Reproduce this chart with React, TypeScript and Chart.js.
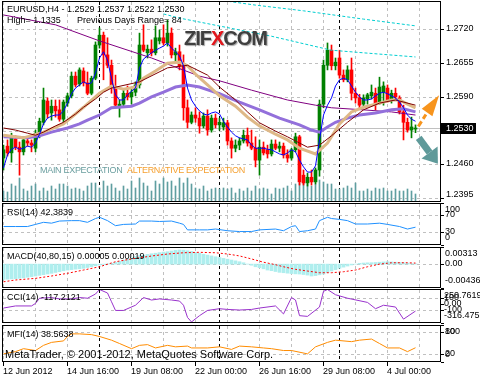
import React, { useEffect, useRef } from 'react';
import { Chart, registerables } from 'chart.js';

Chart.register(...registerables);

const FONT = '"Liberation Sans", Arial, Helvetica, sans-serif';

// ---------------- DATA ----------------
const symbol = 'EURUSD,H4';
const highLabel = '1.1335';
const prevDaysRange = 84;

const opens = [
  1.2473, 1.2496, 1.2483, 1.2510, 1.2494, 1.2485, 1.2506, 1.2502, 1.2492, 1.2519,
  1.2542, 1.2583, 1.2560, 1.2573, 1.2566, 1.2548, 1.2579, 1.2593, 1.2631, 1.2616,
  1.2641, 1.2618, 1.2598, 1.2627, 1.2691, 1.2710, 1.2672, 1.2652, 1.2610, 1.2570,
  1.2577, 1.2598, 1.2591, 1.2600, 1.2614, 1.2691, 1.2676, 1.2683, 1.2676, 1.2699,
  1.2705, 1.2695, 1.2714, 1.2672, 1.2678, 1.2651, 1.2570, 1.2542, 1.2556, 1.2550,
  1.2535, 1.2554, 1.2527, 1.2550, 1.2537, 1.2533, 1.2541, 1.2506, 1.2492, 1.2498,
  1.2506, 1.2517, 1.2502, 1.2492, 1.2469, 1.2494, 1.2489, 1.2481, 1.2500, 1.2492,
  1.2496, 1.2479, 1.2473, 1.2489, 1.2514, 1.2440, 1.2425, 1.2436, 1.2427, 1.2450,
  1.2577, 1.2652, 1.2681, 1.2651, 1.2666, 1.2633, 1.2624, 1.2643, 1.2598, 1.2589,
  1.2577, 1.2587, 1.2593, 1.2598, 1.2581, 1.2600, 1.2608, 1.2585, 1.2598, 1.2589,
  1.2562, 1.2542, 1.2527, 1.2529,
];
const highs = [
  1.2498, 1.2508, 1.2521, 1.2516, 1.2504, 1.2512, 1.2514, 1.2508, 1.2527, 1.2550,
  1.2608, 1.2589, 1.2585, 1.2585, 1.2585, 1.2585, 1.2598, 1.2639, 1.2639, 1.2647,
  1.2647, 1.2639, 1.2631, 1.2697, 1.2724, 1.2716, 1.2705, 1.2662, 1.2633, 1.2585,
  1.2604, 1.2612, 1.2608, 1.2620, 1.2714, 1.2730, 1.2691, 1.2701, 1.2728, 1.2720,
  1.2730, 1.2739, 1.2724, 1.2685, 1.2691, 1.2672, 1.2585, 1.2562, 1.2570, 1.2562,
  1.2560, 1.2566, 1.2556, 1.2558, 1.2550, 1.2550, 1.2546, 1.2512, 1.2508, 1.2512,
  1.2527, 1.2531, 1.2527, 1.2514, 1.2508, 1.2504, 1.2498, 1.2508, 1.2508, 1.2504,
  1.2502, 1.2489, 1.2492, 1.2521, 1.2517, 1.2450, 1.2444, 1.2450, 1.2454, 1.2585,
  1.2662, 1.2695, 1.2691, 1.2666, 1.2681, 1.2643, 1.2651, 1.2666, 1.2608, 1.2596,
  1.2595, 1.2598, 1.2614, 1.2608, 1.2629, 1.2620, 1.2614, 1.2604, 1.2608, 1.2593,
  1.2575, 1.2550, 1.2552, 1.2537,
];
const lows = [
  1.2450, 1.2477, 1.2465, 1.2489, 1.2440, 1.2479, 1.2496, 1.2485, 1.2485, 1.2512,
  1.2537, 1.2550, 1.2546, 1.2552, 1.2544, 1.2542, 1.2573, 1.2589, 1.2610, 1.2612,
  1.2612, 1.2595, 1.2595, 1.2624, 1.2685, 1.2624, 1.2647, 1.2598, 1.2570, 1.2552,
  1.2571, 1.2585, 1.2577, 1.2593, 1.2608, 1.2678, 1.2666, 1.2670, 1.2672, 1.2693,
  1.2691, 1.2689, 1.2666, 1.2658, 1.2643, 1.2546, 1.2531, 1.2539, 1.2542, 1.2521,
  1.2531, 1.2517, 1.2523, 1.2531, 1.2527, 1.2527, 1.2498, 1.2473, 1.2485, 1.2489,
  1.2502, 1.2496, 1.2489, 1.2456, 1.2440, 1.2479, 1.2473, 1.2477, 1.2489, 1.2485,
  1.2473, 1.2465, 1.2469, 1.2485, 1.2421, 1.2421, 1.2419, 1.2421, 1.2423, 1.2438,
  1.2570, 1.2643, 1.2643, 1.2643, 1.2627, 1.2620, 1.2620, 1.2585, 1.2579, 1.2570,
  1.2573, 1.2577, 1.2587, 1.2566, 1.2577, 1.2575, 1.2581, 1.2579, 1.2585, 1.2558,
  1.2508, 1.2523, 1.2512, 1.2522,
];
const closes = [
  1.2489, 1.2483, 1.2512, 1.2494, 1.2485, 1.2508, 1.2502, 1.2498, 1.2521, 1.2544,
  1.2585, 1.2558, 1.2573, 1.2564, 1.2548, 1.2581, 1.2593, 1.2631, 1.2614, 1.2643,
  1.2618, 1.2598, 1.2627, 1.2691, 1.2710, 1.2672, 1.2652, 1.2610, 1.2575, 1.2577,
  1.2598, 1.2591, 1.2600, 1.2614, 1.2691, 1.2681, 1.2683, 1.2676, 1.2705, 1.2705,
  1.2695, 1.2714, 1.2672, 1.2678, 1.2651, 1.2570, 1.2542, 1.2556, 1.2550, 1.2535,
  1.2554, 1.2527, 1.2550, 1.2537, 1.2542, 1.2541, 1.2506, 1.2492, 1.2498, 1.2506,
  1.2517, 1.2502, 1.2492, 1.2469, 1.2494, 1.2483, 1.2481, 1.2500, 1.2492, 1.2496,
  1.2479, 1.2473, 1.2489, 1.2514, 1.2427, 1.2425, 1.2436, 1.2427, 1.2450, 1.2577,
  1.2652, 1.2681, 1.2651, 1.2658, 1.2633, 1.2624, 1.2643, 1.2598, 1.2589, 1.2575,
  1.2589, 1.2595, 1.2600, 1.2577, 1.2610, 1.2612, 1.2585, 1.2598, 1.2591, 1.2562,
  1.2542, 1.2527, 1.2533, 1.2530,
];
const volumes = [
  1100, 1000, 1800, 1600, 2400, 1300, 1100, 1600, 1800, 1100,
  1400, 1100, 1600, 1300, 1800, 1800, 1600, 1300, 1400, 1300,
  1100, 1600, 1900, 1900, 1400, 2100, 1600, 1800, 1400, 1100,
  1600, 1300, 2100, 1400, 2400, 1900, 1600, 1100, 2100, 1800,
  2400, 2000, 2100, 1600, 2400, 1900, 2400, 1800, 1400, 1300,
  1600, 1100, 1300, 1400, 1300, 1400, 1300, 1400, 900, 1300,
  1100, 1400, 1100, 1600, 1300, 1400, 1300, 800, 1400, 1300,
  1400, 1600, 1100, 1800, 1900, 1900, 1800, 1600, 1800, 2200,
  2000, 1800, 1800, 1300, 1300, 1400, 1600, 1400, 1900, 1100,
  1100, 1300, 1100, 1400, 1300, 1400, 1100, 1100, 1300, 1100,
  1100, 1300, 1100, 800,
];
const maBlue = [
  1.2454, 1.2479, 1.2490, 1.2494, 1.2490, 1.2492, 1.2496, 1.2494, 1.2502, 1.2519,
  1.2539, 1.2550, 1.2554, 1.2556, 1.2556, 1.2564, 1.2579, 1.2597, 1.2608, 1.2614,
  1.2620, 1.2616, 1.2618, 1.2637, 1.2666, 1.2678, 1.2662, 1.2627, 1.2595, 1.2585,
  1.2585, 1.2595, 1.2602, 1.2608, 1.2647, 1.2664, 1.2670, 1.2676, 1.2681, 1.2685,
  1.2689, 1.2695, 1.2685, 1.2678, 1.2670, 1.2651, 1.2608, 1.2585, 1.2573, 1.2564,
  1.2558, 1.2556, 1.2560, 1.2562, 1.2558, 1.2544, 1.2533, 1.2523, 1.2516, 1.2512,
  1.2510, 1.2508, 1.2498, 1.2492, 1.2492, 1.2492, 1.2490, 1.2489, 1.2485, 1.2481,
  1.2479, 1.2483, 1.2489, 1.2485, 1.2469, 1.2456, 1.2446, 1.2446, 1.2458, 1.2508,
  1.2556, 1.2575, 1.2589, 1.2612, 1.2624, 1.2627, 1.2624, 1.2612, 1.2600, 1.2591,
  1.2585, 1.2585, 1.2587, 1.2593, 1.2598, 1.2600, 1.2597, 1.2593, 1.2589, 1.2581,
  1.2570, 1.2556, 1.2548, 1.2544,
];
type Pair = [number, number];
const maTan: Pair[] = [
  [0, 1.2517], [5, 1.2512], [10, 1.2523], [15, 1.2539], [20, 1.2571], [24, 1.2598], [27, 1.2612],
  [30, 1.2606], [33, 1.2610], [35, 1.2627], [38, 1.2641], [41, 1.2656], [44, 1.2658], [46, 1.2651],
  [48, 1.2635], [51, 1.2614], [54, 1.2593], [58, 1.2573], [61, 1.2552], [64, 1.2535], [68, 1.2519],
  [71, 1.2508], [74, 1.2492], [78, 1.2481], [81, 1.2502], [84, 1.2539], [87, 1.2562], [90, 1.2571],
  [94, 1.2579], [97, 1.2585], [99, 1.2585], [101, 1.2577], [103, 1.2570],
];
const maMaroon: Pair[] = [
  [0, 1.2531], [3, 1.2527], [6, 1.2521], [8, 1.2517], [10, 1.2523], [13, 1.2535], [15, 1.2542],
  [18, 1.2558], [20, 1.2571], [23, 1.2587], [25, 1.2600], [27, 1.2608], [34, 1.2620], [41, 1.2647],
  [46, 1.2652], [51, 1.2633], [54, 1.2610], [58, 1.2585], [61, 1.2562], [64, 1.2541], [68, 1.2525],
  [71, 1.2514], [74, 1.2502], [76, 1.2494], [79, 1.2498], [82, 1.2516], [86, 1.2542], [90, 1.2566],
  [94, 1.2579], [98, 1.2585], [103, 1.2575],
];
const maPurple: Pair[] = [
  [0, 1.2514], [6, 1.2512], [9, 1.2516], [12, 1.2523], [16, 1.2531], [19, 1.2539], [21, 1.2546],
  [24, 1.2556], [27, 1.2570], [32, 1.2573], [34, 1.2579], [37, 1.2591], [40, 1.2600], [43, 1.2610],
  [46, 1.2614], [49, 1.2610], [52, 1.2602], [54, 1.2597], [59, 1.2581], [64, 1.2566], [69, 1.2550],
  [74, 1.2537], [77, 1.2527], [79, 1.2523], [81, 1.2533], [83, 1.2542], [86, 1.2550], [89, 1.2556],
  [93, 1.2560], [97, 1.2566], [100, 1.2568], [103, 1.2562],
];
const maLong: Pair[] = [
  [0, 1.2749], [13, 1.2730], [24, 1.2699], [37, 1.2666], [49, 1.2631], [54, 1.2622], [62, 1.2604],
  [71, 1.2585], [78, 1.2575], [82, 1.2570], [90, 1.2566], [97, 1.2562], [103, 1.2556],
];
const channelUpper: Pair[] = [[50, 1.2782], [63, 1.2768], [75, 1.2757], [90, 1.2741], [103, 1.2728]];
const channelLower: Pair[] = [
  [40, 1.2751], [44, 1.2743], [59, 1.2720], [67, 1.2708], [82, 1.2681], [90, 1.2676], [103, 1.2668],
];
const rsi: Pair[] = [
  [0, 44], [3, 44], [6, 44], [8, 49], [10, 54], [12, 52], [14, 57], [17, 58], [19, 58], [21, 54],
  [23, 63], [24, 66], [26, 58], [28, 46], [30, 49], [33, 50], [34, 57], [37, 57], [39, 56], [42, 57],
  [44, 52], [45, 49], [46, 36], [49, 36], [51, 36], [53, 38], [56, 34], [59, 32], [62, 32], [64, 36],
  [68, 38], [70, 34], [72, 44], [73, 46], [74, 32], [76, 34], [78, 38], [79, 58], [81, 66], [82, 63],
  [84, 61], [86, 58], [88, 50], [91, 50], [94, 52], [96, 49], [99, 44], [101, 38], [103, 42.3839],
];
const macdHist = [
  -0.00278, -0.00275, -0.00270, -0.00265, -0.00259, -0.00250, -0.00240, -0.00228,
  -0.00217, -0.00205, -0.00192, -0.00180, -0.00168, -0.00152, -0.00138, -0.00122,
  -0.00108, -0.00100, -0.00092, -0.00085, -0.00077, -0.00062, -0.00046, -0.00030,
  -0.00016, -0.00005, 0.00005, 0.00015, 0.00030, 0.00050, 0.00072, 0.00095,
  0.00115, 0.00135, 0.00155, 0.00165, 0.00178, 0.00190, 0.00200, 0.00210,
  0.00220, 0.00227, 0.00240, 0.00252, 0.00258, 0.00255, 0.00245, 0.00232,
  0.00212, 0.00197, 0.00180, 0.00165, 0.00150, 0.00135, 0.00120, 0.00105,
  0.00090, 0.00075, 0.00060, 0.00044, 0.00025, 0.00002, -0.00020, -0.00048,
  -0.00065, -0.00085, -0.00108, -0.00120, -0.00135, -0.00150, -0.00157, -0.00165,
  -0.00172, -0.00178, -0.00181, -0.00190, -0.00200, -0.00217, -0.00210, -0.00195,
  -0.00181, -0.00155, -0.00125, -0.00100, -0.00075, -0.00055, -0.00035, -0.00015,
  0.00000, 0.00015, 0.00020, 0.00024, 0.00026, 0.00030, 0.00035, 0.00040,
  0.00044, 0.00040, 0.00035, 0.00030, 0.00024, 0.00018, 0.00010, 0.00005,
];
const macdSignal: Pair[] = [
  [0, -0.00322], [3, -0.00290], [8, -0.00260], [12, -0.00217], [16, -0.00168], [20, -0.00108],
  [24, -0.00048], [28, 0.00044], [33, 0.00106], [37, 0.00148], [41, 0.00185], [45, 0.00208],
  [49, 0.00216], [53, 0.00208], [56, 0.00185], [59, 0.00150], [62, 0.00095], [65, 0.00035],
  [68, -0.00010], [70, -0.00048], [73, -0.00095], [76, -0.00126], [79, -0.00157], [82, -0.00157],
  [85, -0.00139], [88, -0.00108], [91, -0.00048], [94, 0.00000], [97, 0.00025], [101, 0.00025],
  [103, 0.00019],
];
const cci: Pair[] = [
  [0, -67], [3, -32], [7, -32], [8, 10], [9, 97], [12, 108], [14, 85], [17, 85], [19, 108], [21, 97],
  [23, 167], [24, 242], [26, 184], [27, 38], [28, -107], [30, -107], [33, -20], [35, 108], [37, 67],
  [39, 85], [42, 67], [44, 50], [45, -20], [46, -224], [47, -299], [49, -194], [51, -107], [54, -78],
  [56, -90], [59, -100], [62, -90], [64, -67], [68, -32], [70, -165], [72, 108], [73, 67], [74, -194],
  [76, -206], [79, -50], [80, 212], [81, 242], [83, 155], [86, 97], [91, 27], [93, -78], [95, -20],
  [98, -50], [100, -252], [103, -117.2121],
];
const mfi: Pair[] = [
  [0, 22], [3, 28], [5, 36], [8, 31], [10, 45], [12, 53], [15, 57], [16, 69], [17, 76], [19, 76],
  [22, 74], [24, 69], [27, 59], [29, 50], [32, 36], [34, 45], [36, 47], [38, 38], [41, 45], [43, 41],
  [46, 43], [47, 38], [51, 38], [54, 41], [57, 34], [59, 43], [62, 41], [65, 38], [67, 36], [70, 31],
  [72, 31], [76, 22], [78, 41], [81, 53], [83, 59], [87, 55], [89, 59], [92, 62], [94, 50], [96, 38],
  [99, 38], [101, 28], [103, 38.5638],
];
const priceTicks = [1.2395, 1.2460, 1.2525, 1.2590, 1.2655, 1.2720];
const lastPrice = 1.2530;
const xTickLabels = ['12 Jun 2012', '14 Jun 16:00', '19 Jun 08:00', '22 Jun 00:00', '26 Jun 16:00', '29 Jun 08:00', '4 Jul 00:00'];
const barsPerLabel = 16;
const weekStarts = [24, 54, 84];
const macdMax = 0.00313;
const macdMin = -0.00436;
const cciMax = 250.7619;
const cciMin = -316.475;

// ---------------- LAYOUT / STYLE ----------------
const X_MIN = -0.375;
const X_MAX = 109.375;
const GRID = '#c0c0c0';
const UP = '#008000';
const DOWN = '#ff0000';

const pts = (arr: Pair[]) => arr.map(([x, y]) => ({ x, y }));
const seq = (arr: number[]) => arr.map((y, x) => ({ x, y }));

function line(ctx: CanvasRenderingContext2D, x0: number, y0: number, x1: number, y1: number) {
  ctx.beginPath();
  ctx.moveTo(x0, y0);
  ctx.lineTo(x1, y1);
  ctx.stroke();
}

function arrow(ctx: CanvasRenderingContext2D, x0: number, y0: number, x1: number, y1: number, w: number, hl: number, hw: number) {
  const dx = x1 - x0, dy = y1 - y0;
  const len = Math.hypot(dx, dy);
  const ux = dx / len, uy = dy / len, nx = -uy, ny = ux;
  const bx = x1 - ux * hl, by = y1 - uy * hl;
  if (len > hl && w > 0) {
    ctx.beginPath();
    ctx.moveTo(x0 + nx * w / 2, y0 + ny * w / 2);
    ctx.lineTo(bx + nx * w / 2, by + ny * w / 2);
    ctx.lineTo(bx - nx * w / 2, by - ny * w / 2);
    ctx.lineTo(x0 - nx * w / 2, y0 - ny * w / 2);
    ctx.closePath();
    ctx.fill();
  }
  ctx.beginPath();
  ctx.moveTo(x1, y1);
  ctx.lineTo(bx + nx * hw / 2, by + ny * hw / 2);
  ctx.lineTo(bx - nx * hw / 2, by - ny * hw / 2);
  ctx.closePath();
  ctx.fill();
}

type Draw = (ctx: CanvasRenderingContext2D, chart: any) => void;
interface Spec {
  name: string;
  hGrid: number[];
  labels: { v: number; t: string }[];
  labelX: number;
  before?: Draw;
  after?: Draw;
}

function makePlugin(spec: Spec) {
  return {
    id: 'mt' + spec.name,
    beforeDatasetsDraw(chart: any) {
      const { ctx, chartArea: a } = chart;
      const xs = chart.scales.x, ys = chart.scales.y;
      ctx.save();
      ctx.lineWidth = 1;
      ctx.setLineDash([3, 3]);
      ctx.strokeStyle = GRID;
      for (let i = 0; i <= 104; i += 8) {
        const px = Math.floor(xs.getPixelForValue(i)) + 0.5;
        line(ctx, px, a.top + 1, px, a.bottom - 1);
      }
      for (const v of spec.hGrid) {
        const py = Math.floor(ys.getPixelForValue(v)) + 0.5;
        line(ctx, a.left + 1, py, a.right - 1, py);
      }
      ctx.strokeStyle = '#000';
      for (const s of weekStarts) {
        const px = Math.floor(xs.getPixelForValue(s)) + 0.5;
        line(ctx, px, a.top + 1, px, a.bottom - 1);
      }
      ctx.setLineDash([]);
      if (spec.before) spec.before(ctx, chart);
      ctx.restore();
    },
    afterDatasetsDraw(chart: any) {
      const { ctx, chartArea: a } = chart;
      const ys = chart.scales.y;
      ctx.save();
      ctx.strokeStyle = '#000';
      ctx.lineWidth = 1;
      ctx.strokeRect(a.left + 0.5, a.top + 0.5, a.right - a.left - 1, a.bottom - a.top - 1);
      ctx.font = `9px ${FONT}`;
      ctx.fillStyle = '#000';
      ctx.textBaseline = 'middle';
      ctx.textAlign = 'left';
      for (const l of spec.labels) {
        const py = ys.getPixelForValue(l.v);
        const ty = Math.floor(py) + 0.5;
        line(ctx, a.right, ty, a.right + 3, ty);
        const cy = Math.min(Math.max(py - 1, a.top + 6.5), a.bottom - 7);
        ctx.fillText(l.t, spec.labelX, cy);
      }
      if (spec.after) spec.after(ctx, chart);
      ctx.restore();
    },
  };
}

function baseConfig(top: number, bottom: number, yMin: number, yMax: number, datasets: any[], spec: Spec, extraScales: any = {}) {
  return {
    type: 'bar',
    data: { datasets },
    options: {
      responsive: false,
      maintainAspectRatio: false,
      animation: false,
      devicePixelRatio: 1,
      events: [],
      layout: { padding: { left: 2, right: 39, top, bottom: 380 - bottom } },
      plugins: { legend: { display: false }, tooltip: { enabled: false }, title: { display: false } },
      scales: {
        x: { type: 'linear', display: false, offset: false, min: X_MIN, max: X_MAX },
        y: { type: 'linear', display: false, min: yMin, max: yMax },
        ...extraScales,
      },
    },
    plugins: [makePlugin(spec)],
  };
}

const lineDs = (data: any[], color: string, width: number, order: number, dash: number[] = []) => ({
  type: 'line',
  data,
  borderColor: color,
  borderWidth: width,
  borderDash: dash,
  pointRadius: 0,
  fill: false,
  tension: 0,
  order,
});

const barDs = (data: any[], color: any, thickness: number, order: number, extra: any = {}) => ({
  type: 'bar',
  data,
  backgroundColor: color,
  borderWidth: 0,
  grouped: false,
  barPercentage: 1,
  categoryPercentage: 1,
  barThickness: thickness,
  maxBarThickness: thickness,
  order,
  ...extra,
});

// ---------------- PANELS ----------------
function mainConfig() {
  const candleColors = closes.map((c, i) => (c >= opens[i] ? UP : DOWN));
  const datasets = [
    barDs(seq(volumes), '#5f9ea0', 1, 10, { yAxisID: 'yv' }),
    barDs(lows.map((l, i) => ({ x: i, y: [l, highs[i]] })), candleColors, 1, 6),
    barDs(opens.map((o, i) => ({ x: i, y: [o, closes[i]] })), candleColors, 3, 5, { minBarLength: 1 }),
    lineDs(pts(maLong), '#800080', 1, 4),
    lineDs(pts(channelUpper), '#00ced1', 1, 4, [3, 2]),
    lineDs(pts(channelLower), '#00ced1', 1, 4, [3, 2]),
    lineDs(pts(maPurple), '#9370db', 3, 3),
    lineDs(pts(maTan), '#deb887', 3, 2),
    lineDs(pts(maMaroon), '#800000', 1, 1),
    lineDs(seq(maBlue), '#0000ff', 1, 0),
  ];
  const spec: Spec = {
    name: 'main',
    hGrid: priceTicks,
    labels: priceTicks.filter((v) => Math.abs(v - lastPrice) > 0.0008).map((v) => ({ v, t: v.toFixed(4) })),
    labelX: 446,
    before: (ctx, chart) => {
      const a = chart.chartArea;
      const py = Math.floor(chart.scales.y.getPixelForValue(lastPrice)) + 0.5;
      ctx.strokeStyle = GRID;
      line(ctx, a.left + 1, py, a.right - 1, py);
    },
    after: (ctx, chart) => {
      const a = chart.chartArea;
      const xs = chart.scales.x, ys = chart.scales.y;
      const P = (i: number, v: number) => [xs.getPixelForValue(i), ys.getPixelForValue(v)];
      // current price box
      const by = Math.round(ys.getPixelForValue(lastPrice));
      ctx.fillStyle = '#000';
      ctx.fillRect(a.right, by - 6, 35, 11);
      ctx.fillStyle = '#fff';
      ctx.fillText(lastPrice.toFixed(4), 446, by - 0.5);
      // title
      ctx.fillStyle = '#000';
      const n = closes.length - 1;
      ctx.fillText(`${symbol} - ${[opens[n], highs[n], lows[n], closes[n]].map((v) => v.toFixed(4)).join(' ')}`, 7, 10);
      ctx.fillText(`High= ${highLabel}`, 7, 21);
      ctx.fillText(`Previous Days Range= ${prevDaysRange}`, 77, 21);
      // expectation texts
      ctx.save();
      (ctx as any).letterSpacing = '-0.3px';
      ctx.font = `9px ${FONT}`;
      ctx.fillStyle = '#6a9e9f';
      ctx.fillText('MAIN EXPECTATION', 40, 171);
      ctx.fillStyle = '#f5a030';
      ctx.fillText('ALTERNATIVE EXPECTATION', 127, 171);
      ctx.restore();
      // logo
      ctx.save();
      ctx.font = `bold 20px ${FONT}`;
      (ctx as any).letterSpacing = '-1px';
      ctx.textBaseline = 'alphabetic';
      ctx.shadowColor = 'rgba(0,0,0,0.35)';
      ctx.shadowOffsetX = 1;
      ctx.shadowOffsetY = 1;
      ctx.shadowBlur = 1;
      let lx = 184;
      const parts: [string, string][] = [['ZIF', '#3f3f3f'], ['X', '#e3171d'], ['COM', '#3f3f3f']];
      for (const [t, c] of parts) {
        ctx.fillStyle = c;
        ctx.fillText(t, lx, 45);
        lx += ctx.measureText(t).width;
      }
      ctx.restore();
      // arrows (anchored in data space)
      ctx.fillStyle = '#5f9a9a';
      const [t0x, t0y] = P(103.8, 1.2512);
      const [t1x, t1y] = P(108.6, 1.2462);
      arrow(ctx, t0x, t0y, t1x, t1y, 7, 14, 20);
      ctx.fillStyle = '#f7941d';
      const [o0x, o0y] = P(105.9, 1.2561);
      const [o1x, o1y] = P(108.9, 1.2594);
      arrow(ctx, o0x, o0y, o1x, o1y, 0, Math.hypot(o1x - o0x, o1y - o0y), 13);
      ctx.strokeStyle = '#f7941d';
      ctx.lineWidth = 3;
      ctx.setLineDash([6, 3]);
      const [d0x, d0y] = P(103.7, 1.2534);
      const [d1x, d1y] = P(105.6, 1.2557);
      line(ctx, d0x, d0y, d1x, d1y);
      ctx.setLineDash([]);
    },
  };
  return baseConfig(1, 202, 1.238827, 1.277593, datasets, spec, {
    yv: { type: 'linear', display: false, min: 0, max: 20100 },
  });
}

function rsiConfig() {
  const spec: Spec = {
    name: 'rsi',
    hGrid: [70, 30],
    labels: [{ v: 100, t: '100' }, { v: 70, t: '70' }, { v: 30, t: '30' }, { v: 0, t: '0' }],
    labelX: 445,
    after: (ctx) => {
      ctx.fillText(`RSI(14) ${rsi[rsi.length - 1][1].toFixed(4)}`, 7, 213);
    },
  };
  return baseConfig(203, 245, 0, 100, [lineDs(pts(rsi), '#1e90ff', 1, 0)], spec);
}

function macdConfig() {
  const spec: Spec = {
    name: 'macd',
    hGrid: [0],
    labels: [{ v: macdMax, t: macdMax.toFixed(5) }, { v: 0, t: '0.00' }, { v: macdMin, t: macdMin.toFixed(5) }],
    labelX: 445,
    after: (ctx) => {
      const m = macdHist[macdHist.length - 1].toFixed(5);
      const s = macdSignal[macdSignal.length - 1][1].toFixed(5);
      ctx.fillText(`MACD(40,80,15) ${m} ${s}`, 7, 257);
    },
  };
  return baseConfig(247, 288, macdMin, macdMax, [
    lineDs(pts(macdSignal), '#ff0000', 1, 0, [2, 2]),
    barDs(seq(macdHist), '#afeeee', 3, 5),
  ], spec);
}

function cciConfig() {
  const spec: Spec = {
    name: 'cci',
    hGrid: [100, -100],
    labels: [
      { v: 100, t: '100' },
      { v: cciMax, t: cciMax.toFixed(4) },
      { v: 0, t: '0.00' },
      { v: -100, t: '-100' },
      { v: cciMin, t: cciMin.toFixed(3) },
    ],
    labelX: 444,
    after: (ctx) => {
      ctx.fillText(`CCI(14) ${cci[cci.length - 1][1].toFixed(4)}`, 7, 298);
    },
  };
  return baseConfig(289, 323, cciMin, cciMax, [lineDs(pts(cci), '#9932cc', 1, 0)], spec);
}

function mfiConfig() {
  const spec: Spec = {
    name: 'mfi',
    hGrid: [80, 20],
    labels: [{ v: 100, t: '100' }, { v: 80, t: '80' }, { v: 20, t: '20' }, { v: 0, t: '0' }],
    labelX: 445,
    after: (ctx, chart) => {
      const a = chart.chartArea;
      const xs = chart.scales.x;
      ctx.fillText(`MFI(14) ${mfi[mfi.length - 1][1].toFixed(4)}`, 7, 335);
      ctx.font = `11px ${FONT}`;
      ctx.fillText('MetaTrader, © 2001-2012, MetaQuotes Software Corp.', 5, 355);
      ctx.font = `9px ${FONT}`;
      xTickLabels.forEach((t, k) => {
        const px = Math.floor(xs.getPixelForValue(k * barsPerLabel)) + 0.5;
        line(ctx, px, a.bottom, px, a.bottom + 4);
        ctx.fillText(t, px - 0.5, a.bottom + 10);
      });
    },
  };
  return baseConfig(325, 362, 0, 100, [lineDs(pts(mfi), '#ff8c00', 1, 0)], spec);
}

function ChartPanel({ make }: { make: () => any }) {
  const ref = useRef<HTMLCanvasElement>(null);
  useEffect(() => {
    if (!ref.current) return;
    const chart = new Chart(ref.current, make());
    return () => chart.destroy();
  }, [make]);
  return (
    <canvas
      ref={ref}
      width={480}
      height={380}
      style={{ position: 'absolute', left: 0, top: 0, width: 480, height: 380 }}
    />
  );
}

export default function App() {
  return (
    <div style={{ position: 'fixed', left: 0, top: 0, width: 480, height: 380, background: '#fff', overflow: 'hidden' }}>
      <ChartPanel make={mainConfig} />
      <ChartPanel make={rsiConfig} />
      <ChartPanel make={macdConfig} />
      <ChartPanel make={cciConfig} />
      <ChartPanel make={mfiConfig} />
    </div>
  );
}
